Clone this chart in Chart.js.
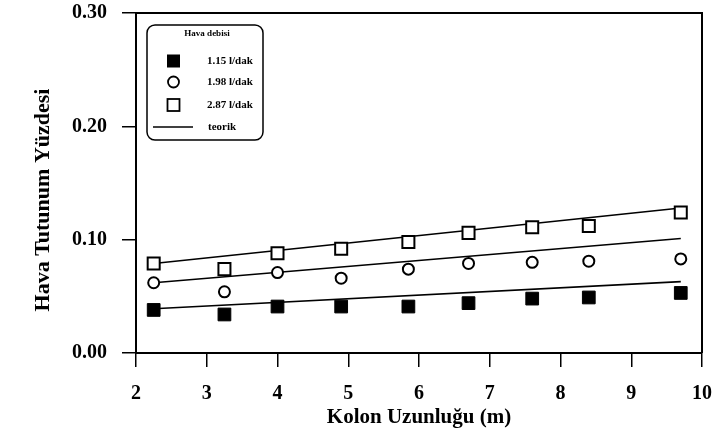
<!DOCTYPE html>
<html>
<head>
<meta charset="utf-8">
<script src="https://cdn.jsdelivr.net/npm/chart.js@4"></script>
<style>
  html, body { margin: 0; padding: 0; background: #fff; }
</style>
</head>
<body>
<canvas id="chart" width="715" height="438"></canvas>
<script>
// Column length (m)
const kolonBoyu = [2.25, 3.25, 4.0, 4.9, 5.85, 6.7, 7.6, 8.4, 9.7];

// Air holdup for each air flow rate
const debi115 = [0.038, 0.034, 0.041, 0.041, 0.041, 0.044, 0.048, 0.049, 0.053];
const debi198 = [0.062, 0.054, 0.071, 0.066, 0.074, 0.079, 0.080, 0.081, 0.083];
const debi287 = [0.079, 0.074, 0.088, 0.092, 0.098, 0.106, 0.111, 0.112, 0.124];

// Theoretical lines (end points)
const teorikX = [2.25, 9.7];
const teorik115 = [0.039, 0.063];
const teorik198 = [0.062, 0.101];
const teorik287 = [0.079, 0.128];

const debiEtiketleri = ['1.15 l/dak', '1.98 l/dak', '2.87 l/dak'];
const teorikEtiket = 'teorik';
const legendBaslik = 'Hava debisi';

const xBaslik = 'Kolon Uzunluğu (m)';
const yBaslik = 'Hava Tutunum Yüzdesi';

const serif = '"Liberation Serif", "Times New Roman", serif';

function toPoints(xs, ys) {
  return xs.map((x, i) => ({ x: x, y: ys[i] }));
}

function lineSet(ys) {
  return {
    type: 'line',
    data: toPoints(teorikX, ys),
    borderColor: '#000',
    borderWidth: 1.6,
    pointRadius: 0,
    fill: false,
  };
}

// Frame, legend box and rotated y title
const extras = {
  id: 'extras',
  afterDraw(chart) {
    const ctx = chart.ctx;
    const a = chart.chartArea;
    ctx.save();
    ctx.strokeStyle = '#000';
    ctx.lineWidth = 2;
    ctx.beginPath();
    ctx.moveTo(a.left, a.top);
    ctx.lineTo(a.right, a.top);
    ctx.lineTo(a.right, a.bottom);
    ctx.stroke();

    // y title
    ctx.fillStyle = '#000';
    ctx.font = 'bold 22px ' + serif;
    ctx.textAlign = 'center';
    ctx.textBaseline = 'middle';
    ctx.translate(43, 200);
    ctx.rotate(-Math.PI / 2);
    ctx.fillText(yBaslik, 0, 0);
    ctx.restore();

    // legend
    ctx.save();
    ctx.strokeStyle = '#000';
    ctx.lineWidth = 1.5;
    ctx.beginPath();
    ctx.roundRect(147, 25, 116, 115, 8);
    ctx.stroke();
    ctx.fillStyle = '#000';
    ctx.textBaseline = 'middle';
    ctx.font = 'bold 9px ' + serif;
    ctx.textAlign = 'center';
    ctx.fillText(legendBaslik, 207, 34);
    ctx.textAlign = 'left';
    ctx.font = 'bold 11px ' + serif;
    const rows = [61, 82, 105];
    ctx.lineWidth = 1.8;
    // filled square
    ctx.fillRect(167, rows[0] - 6.5, 13, 13);
    // circle
    ctx.beginPath();
    ctx.arc(173.5, rows[1], 5.5, 0, Math.PI * 2);
    ctx.stroke();
    // open square
    ctx.strokeRect(167.5, rows[2] - 6, 12, 12);
    debiEtiketleri.forEach((t, i) => ctx.fillText(t, 207, rows[i]));
    ctx.lineWidth = 1.6;
    ctx.beginPath();
    ctx.moveTo(153, 127);
    ctx.lineTo(193, 127);
    ctx.stroke();
    ctx.fillText(teorikEtiket, 208, 127);
    ctx.restore();
  },
};

new Chart(document.getElementById('chart'), {
  type: 'scatter',
  data: {
    datasets: [
      {
        label: debiEtiketleri[0],
        data: toPoints(kolonBoyu, debi115),
        pointStyle: 'rect',
        pointRadius: 9,
        backgroundColor: '#000',
        borderColor: '#000',
        borderWidth: 1,
      },
      {
        label: debiEtiketleri[1],
        data: toPoints(kolonBoyu, debi198),
        pointStyle: 'circle',
        pointRadius: 5.5,
        backgroundColor: '#fff',
        borderColor: '#000',
        borderWidth: 2,
      },
      {
        label: debiEtiketleri[2],
        data: toPoints(kolonBoyu, debi287),
        pointStyle: 'rect',
        pointRadius: 8.5,
        backgroundColor: '#fff',
        borderColor: '#000',
        borderWidth: 2,
      },
      lineSet(teorik115),
      lineSet(teorik198),
      lineSet(teorik287),
    ],
  },
  options: {
    responsive: false,
    animation: false,
    devicePixelRatio: 1,
    layout: { padding: { top: 13, right: 13, left: 0, bottom: 0 } },
    plugins: {
      legend: { display: false },
      tooltip: { enabled: false },
    },
    scales: {
      x: {
        type: 'linear',
        min: 2,
        max: 10,
        ticks: {
          stepSize: 1,
          color: '#000',
          padding: 15,
          font: { family: serif, size: 20, weight: 'bold' },
        },
        grid: {
          drawOnChartArea: false,
          tickLength: 14,
          color: '#000',
          lineWidth: 1.5,
        },
        border: { color: '#000', width: 2 },
        title: {
          display: true,
          text: xBaslik,
          color: '#000',
          padding: { top: 0, bottom: 8 },
          font: { family: serif, size: 21, weight: 'bold' },
        },
        afterFit(scale) {
          scale.height = 85;
          scale.paddingLeft = 0;
          scale.paddingRight = 0;
        },
      },
      y: {
        min: 0,
        max: 0.3,
        ticks: {
          stepSize: 0.1,
          color: '#000',
          padding: 15,
          font: { family: serif, size: 20, weight: 'bold' },
          callback: (v) => v.toFixed(2),
        },
        grid: {
          drawOnChartArea: false,
          tickLength: 14,
          color: '#000',
          lineWidth: 1.5,
        },
        border: { color: '#000', width: 2 },
        afterFit(scale) {
          scale.width = 136;
          scale.paddingTop = 0;
          scale.paddingBottom = 0;
        },
      },
    },
  },
  plugins: [extras],
});
</script>
</body>
</html>
